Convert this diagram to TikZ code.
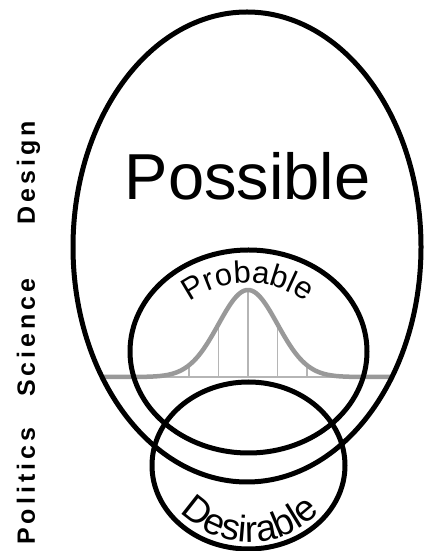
\documentclass[tikz,border=0pt]{standalone}
\usepackage{fontspec}
\setmainfont{Liberation Sans}
\usetikzlibrary{decorations.text}
\definecolor{curvegray}{HTML}{999999}
\definecolor{tickgray}{HTML}{B5B5B5}
\begin{document}
\begin{tikzpicture}[x=1pt,y=1pt,
  ring/.style={draw=black, line width=5pt},
  bell/.style={draw=curvegray, line width=4.5pt},
  tickline/.style={draw=tickgray, line width=1.5pt},
  side/.style={rotate=90, anchor=base west, inner sep=0pt, font=\fontsize{25}{25}\selectfont\bfseries}]
\useasboundingbox (0,0) rectangle (424,551);
\fill[white] (0,0) rectangle (424,551);
% bell curve
\draw[tickline] (103,174) -- (393,174);
\foreach \k in {-2,...,2} {
  \draw[tickline] ({248+(\k)*29.5},174) -- ({248+(\k)*29.5},{174+87*exp(-0.5*(\k)^2)});
}
\draw[bell] plot[domain=103:393,samples=200] (\x,{174+87*exp(-0.5*((\x-248)/29.5)^2)});
% sets
\draw[ring] (247,304) ellipse[x radius=174, y radius=235];
\draw[ring] (248.5,199.5) ellipse[x radius=118.5, y radius=101.5];
\draw[ring] (248.5,85.5) ellipse[x radius=96.5, y radius=83.5];
% labels
\node[font=\fontsize{65}{65}\selectfont, anchor=base, inner sep=0pt] (possible) at (247.5,351) {Possible};
\path[decorate, decoration={text along path, text align=center,
  text={|\fontsize{31}{31}\selectfont|Probable}}]
  (248,172) ++(150:96) arc[start angle=150, end angle=30, radius=96];
\path[decorate, decoration={text along path, text align=center,
  text={|\fontsize{37}{37}\selectfont|Desirable}}]
  (250,106) ++(205:97) arc[start angle=205, end angle=335, radius=97];
\node[side] (design) at (35,326) {D\kern4pt e\kern4pt s\kern4pt i\kern4pt g\kern4pt n};
\node[side] (science) at (35,154) {S\kern4pt c\kern4pt i\kern4pt e\kern4pt n\kern4pt c\kern4pt e};
\node[side] (politics) at (35,6) {P\kern4pt o\kern4pt l\kern4pt i\kern4pt t\kern4pt i\kern4pt c\kern4pt s};
\end{tikzpicture}
\end{document}
